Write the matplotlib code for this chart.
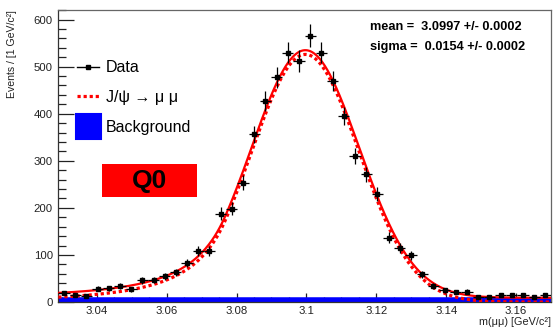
import numpy as np
import matplotlib
matplotlib.use("Agg")
import matplotlib.pyplot as plt
from matplotlib.lines import Line2D
from matplotlib.patches import Rectangle
from matplotlib.ticker import MultipleLocator, FixedLocator, FixedFormatter

plt.rcParams['font.family'] = ['Liberation Sans', 'DejaVu Sans']

# Histogram of the dimuon invariant mass
mass_lo, mass_hi = 3.029, 3.170
n_bins = 44
counts = [19, 14, 13, 28, 29, 34, 27, 46, 47, 55, 63, 83, 108, 108, 188, 198,
          253, 356, 427, 477, 530, 512, 566, 530, 469, 395, 310, 271, 229, 137,
          115, 99, 59, 34, 25, 21, 22, 11, 11, 14, 14, 15, 11, 14]

# Fit result: Crystal Ball signal + flat background
fit_mean, fit_mean_err = 3.0997, 0.0002
fit_sigma, fit_sigma_err = 0.0154, 0.0002
cb_alpha, cb_n = 1.5, 3.0
signal_peak = 526.0
bkg_level = 9.0

x_ticks = [3.04, 3.06, 3.08, 3.10, 3.12, 3.14, 3.16]
x_tick_labels = ["3.04", "3.06", "3.08", "3.1", "3.12", "3.14", "3.16"]
y_ticks = [0, 100, 200, 300, 400, 500, 600]


def crystal_ball(x, mean, sigma, alpha, n):
    t = (x - mean) / sigma
    a = (n / alpha) ** n * np.exp(-0.5 * alpha ** 2)
    b = n / alpha - alpha
    tail = a * np.maximum(b - t, 1e-9) ** (-n)
    return np.where(t > -alpha, np.exp(-0.5 * t ** 2), tail)


edges = np.linspace(mass_lo, mass_hi, n_bins + 1)
centers = 0.5 * (edges[:-1] + edges[1:])
half_w = 0.5 * (edges[1] - edges[0])
y = np.array(counts, dtype=float)
yerr = np.sqrt(y)

xs = np.linspace(mass_lo, mass_hi, 600)
sig = signal_peak * crystal_ball(xs, fit_mean, fit_sigma, cb_alpha, cb_n)
bkg = np.full_like(xs, bkg_level)
total = sig + bkg

fig = plt.figure(figsize=(5.57, 3.30), dpi=100)
ax = fig.add_axes([0.1047, 0.0848, 0.8846, 0.8858])

ax.fill_between(xs, 0, bkg, facecolor='#0000ff', edgecolor='#0000ff',
                linewidth=1.5, zorder=2)
ax.plot(xs, total, color='#ff0000', lw=1.6, zorder=3)
ax.plot(xs, sig, color='#ff0000', lw=2.3, linestyle=(0, (1, 0.9)), zorder=4)
ax.errorbar(centers, y, yerr=yerr, xerr=half_w, fmt='s', color='black',
            ms=3.2, elinewidth=0.9, capsize=0, zorder=5)

ax.set_xlim(mass_lo, mass_hi)
ax.set_ylim(0, 621)

ax.xaxis.set_major_locator(FixedLocator(x_ticks))
ax.xaxis.set_major_formatter(FixedFormatter(x_tick_labels))
ax.xaxis.set_minor_locator(MultipleLocator(0.005))
ax.yaxis.set_major_locator(FixedLocator(y_ticks))
ax.yaxis.set_minor_locator(MultipleLocator(20))

ax.tick_params(axis='both', which='both', direction='in', colors='#222222',
               labelsize=8.2, width=0.9)
ax.tick_params(axis='y', which='major', length=11.5, pad=4)
ax.tick_params(axis='y', which='minor', length=5.8)
ax.tick_params(axis='x', which='major', length=6.5, pad=3)
ax.tick_params(axis='x', which='minor', length=3.3)
ax.tick_params(top=False, right=False, which='both')

for side, sp in ax.spines.items():
    sp.set_linewidth(0.9)
    sp.set_color('#333333' if side in ('left', 'bottom') else '#666666')

ax.set_ylabel("Events / [1 GeV/c²]", fontsize=7.6, loc='top', color='#222222')
ax.yaxis.set_label_coords(-0.083, 1.0)
ax.set_xlabel("m(μμ) [GeV/c²]", fontsize=7.8, loc='right', color='#222222')
ax.xaxis.set_label_coords(1.0, -0.052)

handles = [
    Line2D([], [], color='black', lw=1.0, marker='s', ms=3.2),
    Line2D([], [], color='#ff0000', lw=2.3, linestyle=(0, (1, 0.9))),
    Line2D([], [], color='#0000ff', lw=0, marker='s', ms=18,
           markeredgewidth=1.5, markeredgecolor='#0000ff'),
]
labels = ["Data", "J/ψ → μ μ", "Background"]
ax.legend(handles, labels, loc='upper left', bbox_to_anchor=(0.038, 0.827),
          frameon=False, fontsize=11.5, handlelength=1.4, handletextpad=0.4,
          labelspacing=0.92, borderpad=0, borderaxespad=0)

ax.text(0.6326, 0.9408, "mean =  %.4f +/- %.4f" % (fit_mean, fit_mean_err),
        transform=ax.transAxes, fontsize=9.2, fontweight='bold',
        ha='left', va='center')
ax.text(0.6326, 0.8724, "sigma =  %.4f +/- %.4f" % (fit_sigma, fit_sigma_err),
        transform=ax.transAxes, fontsize=9.2, fontweight='bold',
        ha='left', va='center')

ax.add_patch(Rectangle((0.0887, 0.3592), 0.1928, 0.1129, transform=ax.transAxes,
                       facecolor='#ff0000', edgecolor='none', zorder=6))
ax.text(0.1851, 0.4157, "Q0", transform=ax.transAxes, fontsize=19,
        fontweight='bold', ha='center', va='center', zorder=7)

fig.savefig("out.png", dpi=100)
